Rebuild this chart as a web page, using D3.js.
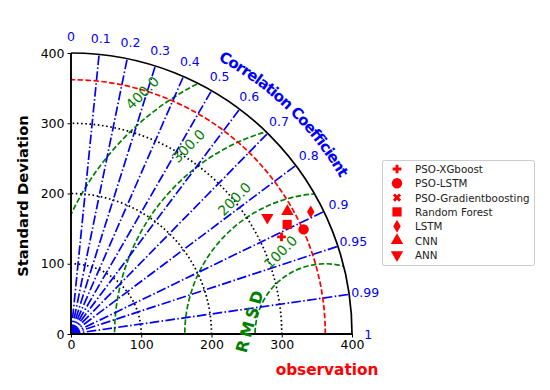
<!DOCTYPE html>
<html>
<head>
<meta charset="utf-8">
<script src="https://cdn.jsdelivr.net/npm/d3@7"></script>
<style>
  body { margin: 0; background: #fff; }
  svg { font-family: "DejaVu Sans", sans-serif; }
</style>
</head>
<body>
<svg width="550" height="390"></svg>
<script>
// Taylor diagram data (std dev + correlation per model)
var models = ["PSO-XGboost", "PSO-LSTM", "PSO-Gradientboosting", "Random Forest", "LSTM", "CNN", "ANN"];
var stdDev = [330, 363, 344, 345, 383, 354, 325];
var corrCoef = [0.908, 0.912, 0.893, 0.892, 0.891, 0.870, 0.860];
var obsStd = 362;
var stdTicks = [0, 100, 200, 300, 400];
var stdArcs = [100, 200, 300];
var rmsTicks = [100, 200, 300, 400];
var corrTicks = [0.1, 0.2, 0.3, 0.4, 0.5, 0.6, 0.7, 0.8, 0.9, 0.95, 0.99];
var corrLabels = [0, 0.1, 0.2, 0.3, 0.4, 0.5, 0.6, 0.7, 0.8, 0.9, 0.95, 0.99, 1];

var svg = d3.select("svg"),
    maxStd = 400;

var x = d3.scaleLinear().domain([0, maxStd]).range([71, 352]),
    y = d3.scaleLinear().domain([0, maxStd]).range([334, 53]),
    k = (x(maxStd) - x(0)) / maxStd;   // px per unit

var ox = x(0), oy = y(0);

function px(s, th) { return x(s * Math.cos(th)); }
function py(s, th) { return y(s * Math.sin(th)); }

function quarter(s) {
    var p = d3.path();
    p.moveTo(x(s), oy);
    p.arc(ox, oy, s * k, 0, -Math.PI / 2, true);
    return p.toString();
}

// clip to the quarter disc
var clipP = d3.path();
clipP.moveTo(ox, oy);
clipP.lineTo(x(maxStd), oy);
clipP.arc(ox, oy, maxStd * k, 0, -Math.PI / 2, true);
clipP.closePath();
svg.append("defs").append("clipPath").attr("id", "clip")
    .append("path").attr("d", clipP.toString());

var plot = svg.append("g").attr("clip-path", "url(#clip)");

// RMSD circles
plot.selectAll(".rms")
    .data(rmsTicks)
  .enter().append("circle")
    .attr("cx", x(obsStd)).attr("cy", oy)
    .attr("r", function (d) { return d * k; })
    .attr("fill", "none")
    .attr("stroke", "#008000")
    .attr("stroke-width", 1.7)
    .attr("stroke-dasharray", "5.5,2.4");

// std dev dotted arcs
plot.selectAll(".stdarc")
    .data(stdArcs)
  .enter().append("path")
    .attr("d", quarter)
    .attr("fill", "none")
    .attr("stroke", "#000")
    .attr("stroke-width", 1.7)
    .attr("stroke-dasharray", "1.6,2.6");

// correlation lines
plot.selectAll(".corr")
    .data(corrTicks)
  .enter().append("line")
    .attr("x1", ox).attr("y1", oy)
    .attr("x2", function (d) { return px(maxStd, Math.acos(d)); })
    .attr("y2", function (d) { return py(maxStd, Math.acos(d)); })
    .attr("stroke", "#0000ff")
    .attr("stroke-width", 1.7)
    .attr("stroke-dasharray", "9.6,2.4,1.5,2.4");

// observation arc
plot.append("path")
    .attr("d", quarter(obsStd))
    .attr("fill", "none")
    .attr("stroke", "#ff0000")
    .attr("stroke-width", 1.7)
    .attr("stroke-dasharray", "5.5,2.4");

// outer arc
svg.append("path")
    .attr("d", quarter(maxStd))
    .attr("fill", "none")
    .attr("stroke", "#000")
    .attr("stroke-width", 1.7);

// axes
var xAxis = d3.axisBottom(x).tickValues(stdTicks).tickSize(3.5).tickPadding(3),
    yAxis = d3.axisLeft(y).tickValues(stdTicks).tickSize(3.5).tickPadding(3);

var gx = svg.append("g").attr("transform", "translate(0," + oy + ")").call(xAxis);
var gy = svg.append("g").attr("transform", "translate(" + ox + ",0)").call(yAxis);
[gx, gy].forEach(function (g) {
    g.select(".domain").attr("stroke-width", 1.9);
    g.selectAll("text").attr("font-size", 12.5).attr("font-family", "DejaVu Sans").attr("fill", "#000");
    g.selectAll("line").attr("stroke-width", 1);
});
gx.select(".domain").attr("d", "M" + ox + ",0H" + x(maxStd));
gy.select(".domain").attr("d", "M0," + oy + "V" + y(maxStd));

// correlation tick labels
svg.selectAll(".clab")
    .data(corrLabels)
  .enter().append("text")
    .attr("x", function (d) { return px(423, Math.acos(d)); })
    .attr("y", function (d) { return py(423, Math.acos(d)); })
    .attr("text-anchor", "middle")
    .attr("dominant-baseline", "central")
    .attr("font-size", 12.5)
    .attr("fill", "#0000ff")
    .text(function (d) { return d; });

// correlation title on an arc
var R = 311;
var tp = d3.path();
var a0 = -92 * Math.PI / 180;
tp.moveTo(ox + R * Math.cos(a0), oy + R * Math.sin(a0));
tp.arc(ox, oy, R, a0, 0, false);
svg.select("defs").append("path").attr("id", "corrArc").attr("d", tp.toString());
svg.append("text")
    .attr("font-size", 15)
    .attr("font-weight", "bold")
    .attr("fill", "#0000ff")
    .attr("letter-spacing", -0.9)
  .append("textPath")
    .attr("href", "#corrArc")
    .attr("startOffset", "50%")
    .attr("text-anchor", "middle")
    .text("Correlation Coefficient");

// RMSD labels
var la = 131 * Math.PI / 180;
svg.selectAll(".rlab")
    .data(rmsTicks)
  .enter().append("text")
    .attr("transform", function (d) {
        var tx = x(obsStd + (d + 28) * Math.cos(la)),
            ty = y((d + 28) * Math.sin(la));
        return "translate(" + tx + "," + ty + ") rotate(-45)";
    })
    .attr("dominant-baseline", "central")
    .attr("font-size", 14)
    .attr("fill", "#008000")
    .text(function (d) { return d.toFixed(1); });

svg.append("text")
    .attr("transform", "translate(" + x(obsStd - 107) + "," + y(20) + ") rotate(-74)")
    .attr("text-anchor", "middle")
    .attr("dominant-baseline", "central")
    .attr("font-size", 16)
    .attr("font-weight", "bold")
    .attr("letter-spacing", 3.5)
    .attr("fill", "#008000")
    .text("RMSD");

// axis titles
svg.append("text")
    .attr("transform", "translate(22,196) rotate(-90)")
    .attr("text-anchor", "middle")
    .attr("dominant-baseline", "central")
    .attr("font-size", 14.8)
    .attr("font-weight", "bold")
    .text("Standard Deviation");

svg.append("text")
    .attr("x", 327).attr("y", 370)
    .attr("text-anchor", "middle")
    .attr("dominant-baseline", "central")
    .attr("font-size", 15.3)
    .attr("font-weight", "bold")
    .attr("fill", "#ff0000")
    .text("observation");

// markers
var shapes = [
    { t: d3.symbolCross, s: 42, r: 0 },
    { t: d3.symbolCircle, s: 85, r: 0 },
    { t: d3.symbolCross, s: 42, r: 45 },
    { t: d3.symbolSquare, s: 85, r: 0 },
    { t: d3.symbolDiamond, s: 48, r: 0 },
    { t: d3.symbolTriangle, s: 66, r: 0 },
    { t: d3.symbolTriangle, s: 66, r: 180 }
];

svg.selectAll(".pt")
    .data(models)
  .enter().append("path")
    .attr("d", function (d, i) { return d3.symbol().type(shapes[i].t).size(shapes[i].s)(); })
    .attr("transform", function (d, i) {
        var th = Math.acos(corrCoef[i]);
        return "translate(" + px(stdDev[i], th) + "," + py(stdDev[i], th) + ") rotate(" + shapes[i].r + ")";
    })
    .attr("fill", "#ff0000");

// legend
var legend = svg.append("g").attr("transform", "translate(382.5,160.5)");
legend.append("rect")
    .attr("width", 152).attr("height", 105)
    .attr("rx", 2)
    .attr("fill", "#fff")
    .attr("stroke", "#cccccc")
    .attr("stroke-width", 1);

var items = legend.selectAll(".item")
    .data(models)
  .enter().append("g")
    .attr("transform", function (d, i) { return "translate(0," + (8.5 + i * 14.3) + ")"; });

items.append("path")
    .attr("d", function (d, i) { return d3.symbol().type(shapes[i].t).size(shapes[i].s)(); })
    .attr("transform", function (d, i) { return "translate(14.5,0) rotate(" + shapes[i].r + ")"; })
    .attr("fill", "#ff0000");

items.append("text")
    .attr("x", 32.5)
    .attr("dominant-baseline", "central")
    .attr("font-size", 10.3)
    .attr("fill", "#222")
    .text(function (d) { return d; });
</script>
</body>
</html>
